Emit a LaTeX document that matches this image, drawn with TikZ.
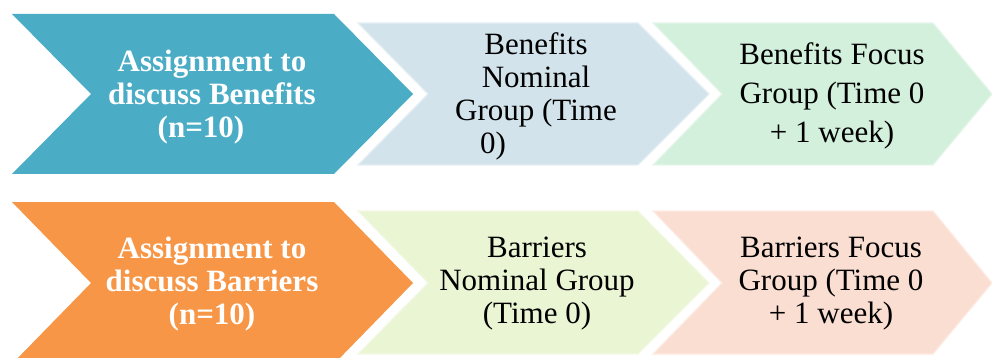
\documentclass[tikz,border=0pt]{standalone}
\usepackage{fontspec}
\setmainfont{Liberation Serif}
\definecolor{cTeal}{HTML}{4BACC6}
\definecolor{cOrange}{HTML}{F79646}
\definecolor{cBlueL}{HTML}{D2E3EB}
\definecolor{cGreenL}{HTML}{D3F0DC}
\definecolor{cLimeL}{HTML}{EAF5D4}
\definecolor{cPeachL}{HTML}{FBDED2}
\begin{document}
\begin{tikzpicture}[x=1pt,y=-1pt,
  chev/.style={line width=1.2pt, line join=miter},
  lbl/.style={align=center, inner sep=0pt, font=\fontsize{31}{33}\selectfont},
  lblw/.style={lbl, text=white, font=\fontsize{31}{33}\selectfont\bfseries}]
\useasboundingbox (0,0) rectangle (992,358);
\begin{scope}
\clip (0,0) rectangle (992,358);
% top row
\fill[cTeal] (12,14) -- (334,14) -- (413,94) -- (334,174) -- (12,174) -- (91,94) -- cycle;
\draw[chev, cBlueL!60!white, fill=cBlueL] (358,23) -- (638,23) -- (709,94) -- (638,165) -- (358,165) -- (428,94) -- cycle;
\draw[chev, cGreenL!60!white, fill=cGreenL] (653,23) -- (933,23) -- (992,94) -- (933,165) -- (653,165) -- (722,94) -- cycle;
% bottom row
\fill[cOrange] (12,202) -- (334,202) -- (413,283) -- (334,364) -- (12,364) -- (91,283) -- cycle;
\draw[chev, cLimeL!60!white, fill=cLimeL] (358,211) -- (638,211) -- (709,283) -- (638,354) -- (358,354) -- (428,283) -- cycle;
\draw[chev, cPeachL!60!white, fill=cPeachL] (653,211) -- (933,211) -- (992,283) -- (933,354) -- (653,354) -- (722,283) -- cycle;
\end{scope}
% labels
\node[lblw] (t1) at (212,97) {Assignment to\\discuss Benefits\\(n=10)\hspace*{22pt}};
\node[lbl] (t2) at (536,96) {Benefits\\Nominal\\Group (Time\\0)\hspace*{86pt}};
\node[lbl, font=\fontsize{31}{39}\selectfont] (t3) at (832,96) {Benefits Focus\\Group (Time 0\\+ 1 week)};
\node[lblw] (b1) at (212,284) {Assignment to\\discuss Barriers\\(n=10)};
\node[lbl] (b2) at (537,284) {Barriers\\Nominal Group\\(Time 0)};
\node[lbl] (b3) at (831,284) {Barriers Focus\\Group (Time 0\\+ 1 week)};
\end{tikzpicture}
\end{document}
